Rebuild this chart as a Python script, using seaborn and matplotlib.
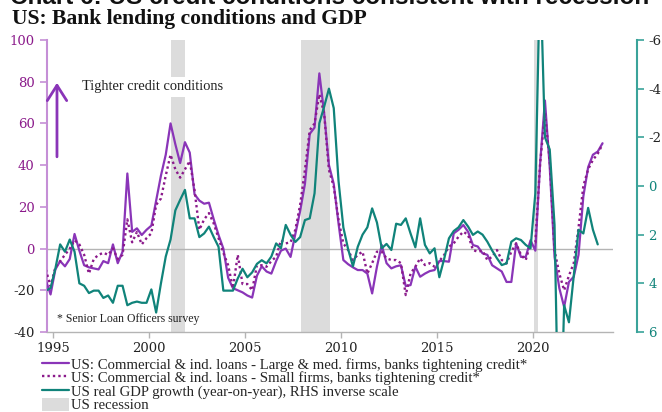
import numpy as np
import pandas as pd
import seaborn as sns
import matplotlib.pyplot as plt
from matplotlib.lines import Line2D
from matplotlib.patches import Patch

# ---------------- data (quarterly, 1994Q3 .. 2023Q3) ----------------
large_firms = [-15, -22, -10, -6, -8.5, -5, 7, -1, -8, -9,
               -9.5, -10, -6, -7, 2, -7, -1.5, 36, 8, 9.7,
               6.5, 9, 11, 23, 35, 45, 60, 50, 41, 51,
               46, 26, 23, 21.5, 22, 14, 6.5, 0, -14, -19,
               -20, -21, -22.5, -23.5, -13, -8.5, -11, -12, -6, -1,
               0, -4, 7, 18, 31, 55, 58, 84, 65, 40,
               31, 12, -5.5, -7.5, -9, -10.3, -10.3, -12, -21.5, -8.7,
               1.7, -7, -9.5, -8.5, -8, -18, -17.5, -8.7, -13.5, -12,
               -10.8, -10.3, -6, -6, -6.3, 7.3, 9, 11.3, 8, 1.7,
               1, -2.3, -3, -8, -9.5, -11, -16, -16, 2.5, -4,
               -4, 4, -1, 41, 71, 39, -4, -19, -28, -16,
               -13.5, -3, 25, 39, 45, 46.5, 50.5]
small_firms = [-10, -18, -9, -6, -3, 0, 4, 2, -3, -12,
               -5, -3, -2, -3, 0, -5, -3, 14, 3, 8,
               2, 5, 7.3, 21, 24, 35, 45, 38, 34, 38,
               42, 28, 9, 14, 17, 12, 5, -2, -8, -19,
               -3, -17, -17, -20, -8, -8, -8.7, -6, -3.9, 4,
               2.5, 3, 9, 21, 37.7, 56.8, 60, 74, 64.8, 37.7,
               29.7, 13.7, 2.5, -0.7, -5.5, -3, -1.5, -12, -7, -1.5,
               -1.5, -4.7, -5.5, -5.5, -7, -22.3, -12, -8.7, -4.7, -7.9,
               -7, -8.7, -6, -3.1, 0.9, 2.5, 5.7, 8.1, 6.5, -0.7,
               -1.5, -1, -5.5, -3.9, -0.7, -5.5, -7.1, -1.5, 2.5, -3,
               -5.5, 2.5, 3, 40.9, 65, 42, -1, -12, -20, -13,
               -7, 10, 30, 38, 42.5, 45.5, 50]
# 1994Q3 .. 2023Q2
gdp_growth = [4.3, 4.2, 3.4, 2.4, 2.7, 2.2, 2.7, 4.0, 4.1, 4.4,
              4.3, 4.3, 4.6, 4.5, 4.8, 4.1, 4.1, 4.9, 4.8, 4.75,
              4.8, 4.8, 4.25, 5.2, 4.0, 2.9, 2.2, 1.0, 0.57, 0.16,
              1.33, 1.33, 2.1, 1.95, 1.67, 2.1, 2.5, 4.3, 4.3, 4.3,
              3.8, 3.4, 3.75, 3.55, 3.2, 3.05, 3.18, 2.9, 2.36, 2.56,
              1.6, 2.0, 2.3, 2.1, 1.4, 1.33, 0.3, -2.58, -3.26, -4.0,
              -3.2, -0.2, 1.7, 2.6, 3.3, 2.5, 2.0, 1.7, 0.92, 1.5,
              2.56, 2.38, 2.63, 1.55, 1.6, 1.33, 1.95, 2.52, 1.33, 2.42,
              2.77, 2.56, 3.75, 3.0, 2.15, 1.85, 1.7, 1.4, 1.67, 2.01,
              1.87, 2.0, 2.29, 2.65, 2.97, 3.25, 3.18, 2.29, 2.15, 2.22,
              2.42, 2.56, 0.3, -9.0, -2.0, -1.5, 1.6, 12.0, 4.9, 5.6,
              3.7, 1.8, 1.95, 0.9, 1.8, 2.4]
recession_start = [2001.17, 2007.92, 2020.08]
recession_end = [2001.875, 2009.45, 2020.27]

periods = pd.period_range('1994Q3', '2023Q3', freq='Q')
dates = periods.year + (periods.quarter - 1) * 0.25 + 0.125
df = pd.DataFrame({'date': dates, 'large': large_firms, 'small': small_firms})
dfg = pd.DataFrame({'date': dates[:len(gdp_growth)], 'gdp': gdp_growth})

# ---------------- styling ----------------
sns.set_theme(style='white')
plt.rcParams['font.family'] = ['Liberation Serif', 'DejaVu Serif']

PURPLE = '#8a35b8'
PURPLE_DOT = '#8b1a8b'
TEAL = '#10837a'
TEAL_LIGHT = '#3aa39a'
SHADE = '#dcdcdc'
TICKFONT = 'DejaVu Serif'

fig = plt.figure(figsize=(6.62, 4.12), dpi=100)
ax = fig.add_axes([47 / 662, 80 / 412, 566 / 662, 292 / 412])
ax2 = ax.twinx()

for s, e in zip(recession_start, recession_end):
    ax.axvspan(s, e, color=SHADE, lw=0, zorder=0)
ax.axhline(0, color='#b4b4b4', lw=1.0, zorder=1)

sns.lineplot(data=df, x='date', y='large', ax=ax, color=PURPLE, lw=1.6, zorder=3)
sns.lineplot(data=df, x='date', y='small', ax=ax, color=PURPLE_DOT, lw=1.7,
             linestyle=(0, (1, 1.3)), zorder=3)
sns.lineplot(data=dfg, x='date', y='gdp', ax=ax2, color=TEAL, lw=1.6, zorder=3)

ax.set_xlim(1994.69, 2024.17)
ax.set_ylim(-40, 100)
ax2.set_ylim(6, -6)
ax.set_xlabel('')
ax.set_ylabel('')
ax2.set_ylabel('')

# spines
for sp in ['top', 'right']:
    ax.spines[sp].set_visible(False)
for sp in ['top', 'left', 'bottom']:
    ax2.spines[sp].set_visible(False)
ax.spines['left'].set_color('#c58fd6')
ax.spines['left'].set_linewidth(1.5)
ax.spines['bottom'].set_color('#b4b4b4')
ax.spines['bottom'].set_linewidth(1.0)
ax2.spines['right'].set_position(('outward', 17.3))
ax2.spines['right'].set_color(TEAL_LIGHT)
ax2.spines['right'].set_linewidth(1.5)

# ticks
ax.set_xticks([1995, 2000, 2005, 2010, 2015, 2020])
ax.set_xticklabels(['1995', '2000', '2005', '2010', '2015', '2020'])
ax.tick_params(axis='x', bottom=True, direction='out', length=4, width=1,
               color='#b4b4b4', pad=3, labelsize=9.5, labelcolor='#222222')
ax.set_yticks([100, 80, 60, 40, 20, 0, -20, -40])
ax.set_yticklabels(['100', '80', '60', '40', '20', '0', '-20', '-40'])
ax.tick_params(axis='y', left=True, direction='out', length=5, width=1.2,
               color='#c58fd6', pad=4, labelsize=9.5)
for lab, v in zip(ax.get_yticklabels(), [100, 80, 60, 40, 20, 0, -20, -40]):
    lab.set_color(PURPLE_DOT if v >= 0 else '#222222')
    lab.set_fontfamily(TICKFONT)
for lab in ax.get_xticklabels():
    lab.set_fontfamily(TICKFONT)

ax2.set_yticks([-6, -4, -2, 0, 2, 4, 6])
ax2.set_yticklabels(['-6', '-4', '-2', '0', '2', '4', '6'])
ax2.tick_params(axis='y', right=True, direction='out', length=5, width=1.2,
                color=TEAL_LIGHT, pad=3, labelsize=9.5)
for lab, v in zip(ax2.get_yticklabels(), [-6, -4, -2, 0, 2, 4, 6]):
    lab.set_color(TEAL if v >= 0 else '#222222')
    lab.set_fontfamily(TICKFONT)

# annotations
ax.annotate('', xy=(1995.21, 79.5), xytext=(1995.21, 44),
            arrowprops=dict(arrowstyle='->,head_length=0.55,head_width=0.35',
                            color=PURPLE, lw=2.0, mutation_scale=20,
                            shrinkA=0, shrinkB=0), zorder=5)
ax.text(1996.5, 77.5, 'Tighter credit conditions', fontsize=10.4, color='#222222',
        va='center', ha='left', zorder=6,
        bbox=dict(facecolor='white', edgecolor='none', pad=2.5))
ax.text(1995.21, -34, '* Senior Loan Officers survey', fontsize=8.5, color='#222222',
        va='center', ha='left', zorder=6)

# titles (the top headline is cut off by the image edge, as in the source)
fig.text(10 / 662, 1 - 4.5 / 412, 'Chart 6: US credit conditions consistent with recession',
         fontfamily='Liberation Sans', fontweight='bold', fontsize=17.5, va='baseline',
         color='#111111')
fig.text(12 / 662, 1 - 19 / 412, 'US: Bank lending conditions and GDP',
         fontweight='bold', fontsize=15.6, va='center', color='#111111')

# legend
handles = [Line2D([], [], color=PURPLE, lw=1.6),
           Line2D([], [], color=PURPLE_DOT, lw=1.7, linestyle=(0, (1, 1.3))),
           Line2D([], [], color=TEAL, lw=1.6),
           Patch(facecolor=SHADE, edgecolor='none')]
labels = ['US: Commercial & ind. loans - Large & med. firms, banks tightening credit*',
          'US: Commercial & ind. loans - Small firms, banks tightening credit*',
          'US real GDP growth (year-on-year), RHS inverse scale',
          'US recession']
fig.legend(handles, labels, loc='upper left', bbox_to_anchor=(42 / 662, 1 - 357 / 412),
           frameon=False, fontsize=10.6, handlelength=1.8, handletextpad=0.2,
           labelspacing=-0.08, borderaxespad=0, borderpad=0, handleheight=1.0)

fig.savefig('out.png', dpi=100)
